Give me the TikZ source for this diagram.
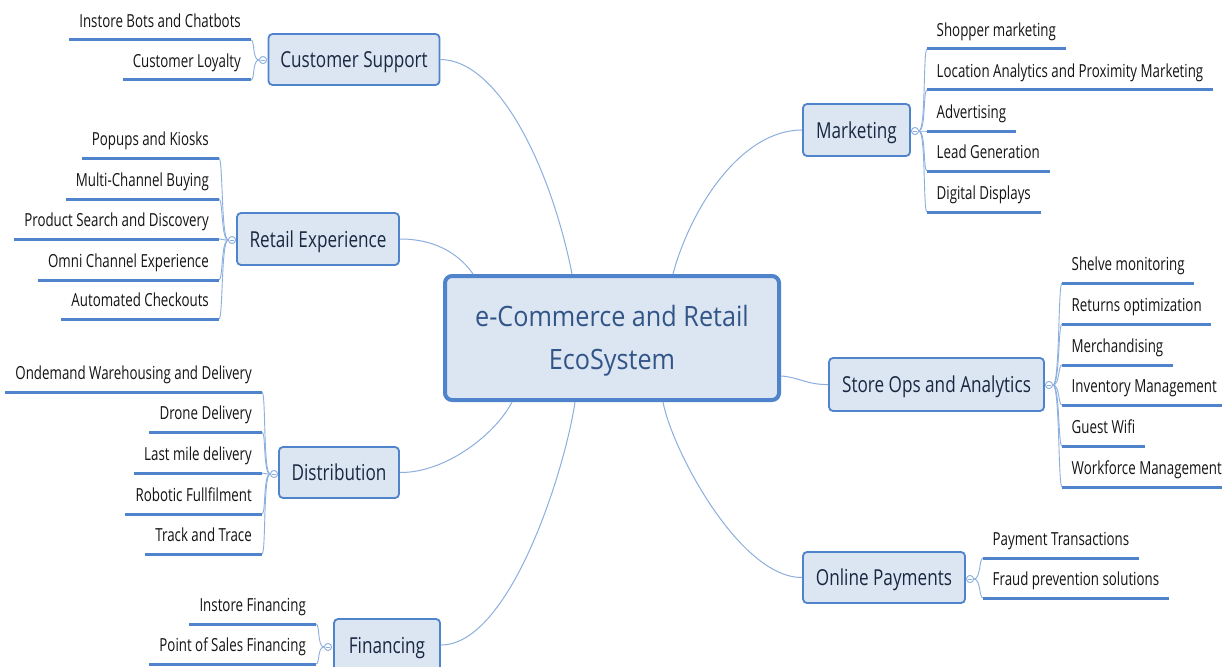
\documentclass[tikz,border=0pt]{standalone}
\usepackage{fontspec}
\setmainfont{Open Sans}[FakeStretch=0.78]
\newfontfamily\leaffont{Open Sans}[FakeStretch=0.74]
\newfontfamily\corefont{Open Sans}[FakeStretch=0.9]
\definecolor{lineblue}{RGB}{79,131,204}
\definecolor{thinblue}{RGB}{140,175,222}
\definecolor{boxfill}{RGB}{220,230,242}
\definecolor{branchtext}{RGB}{25,40,65}
\definecolor{coretext}{RGB}{50,85,135}
\definecolor{leaftext}{RGB}{20,20,20}
\begin{document}
\begin{tikzpicture}[x=1pt,y=-1pt,
  core/.style={draw=lineblue, line width=4pt, rounded corners=7pt, fill=boxfill,
    text=coretext, align=center, font=\corefont\fontsize{28}{43}\selectfont,
    text height=63pt, text depth=0pt,
    minimum width=334pt, minimum height=124pt, inner sep=0pt},
  branch/.style={draw=lineblue, line width=1.8pt, rounded corners=4pt, fill=boxfill,
    text=branchtext, font=\fontsize{22}{26}\selectfont,
    text height=16pt, text depth=0pt, inner sep=0pt},
  leafL/.style={anchor=south east, inner xsep=10pt, inner ysep=0pt, text depth=12pt,
    text=leaftext, font=\leaffont\fontsize{18}{20}\selectfont},
  leafR/.style={anchor=south west, inner xsep=9.5pt, inner ysep=0pt, text depth=12pt,
    text=leaftext, font=\leaffont\fontsize{18}{20}\selectfont},
  uline/.style={draw=lineblue, line width=3pt},
  link/.style={draw=thinblue, line width=1pt},
  bracket/.style={draw=thinblue, line width=0.9pt},
  knob/.style={circle, draw=thinblue, fill=white, line width=0.8pt, minimum size=7pt, inner sep=0pt}
]
\clip (0,0) rectangle (1222,666);
\fill[white] (0,0) rectangle (1222,666);

% central topic
\node[core] (core) at (612,338) {e-Commerce and Retail\\EcoSystem};

% main branches
\node[branch, minimum width=171pt, minimum height=51pt] (cs) at (354,59.5) {Customer Support};
\node[branch, minimum width=162pt, minimum height=52pt] (re) at (318,239) {Retail Experience};
\node[branch, minimum width=120pt, minimum height=51pt] (di) at (339,472.5) {Distribution};
\node[branch, minimum width=106pt, minimum height=52pt] (fi) at (387,645) {Financing};
\node[branch, minimum width=107pt, minimum height=52pt] (mk) at (856.5,130) {Marketing};
\node[branch, minimum width=215pt, minimum height=53pt] (so) at (936.5,384.5) {Store Ops and Analytics};
\node[branch, minimum width=162pt, minimum height=51pt] (op) at (884,577.5) {Online Payments};

% curved links from the central topic to each branch
\draw[link] (cs.east) .. controls (500,60) and (552,172) .. (core.north -| 572,0);
\draw[link] (re.east) .. controls (440,239) and (462,258) .. (core.north -| 473,0);
\draw[link] (mk.west) .. controls (740,130) and (690,210) .. (core.north -| 673,0);
\draw[link] (so.west) .. controls (808,385) and (798,377) .. (core.east |- 0,376);
\draw[link] (op.west) .. controls (740,578) and (672,450) .. (core.south -| 663,0);
\draw[link] (di.east) .. controls (445,473) and (495,435) .. (core.south -| 512,0);
\draw[link] (fi.east) .. controls (510,645) and (565,470) .. (core.south -| 575,0);

% collapse knobs
\node[knob] (kcs) at (263,60) {};
\node[knob] (kre) at (232,240) {};
\node[knob] (kdi) at (274,474) {};
\node[knob] (kfi) at (328,647) {};
\node[knob] (kmk) at (915,131) {};
\node[knob] (kso) at (1049,385) {};
\node[knob] (kop) at (970,579) {};

% left-hand subtopics
\foreach \n/\ux/\uy/\k/\t in {
  cs1/251/40/kcs/Instore Bots and Chatbots,
  cs2/251/80/kcs/Customer Loyalty,
  re1/219/158/kre/Popups and Kiosks,
  re2/219/199/kre/Multi-Channel Buying,
  re3/219/239/kre/Product Search and Discovery,
  re4/219/280/kre/Omni Channel Experience,
  re5/219/319/kre/Automated Checkouts,
  di1/262/392/kdi/Ondemand Warehousing and Delivery,
  di2/262/432/kdi/Drone Delivery,
  di3/262/473/kdi/Last mile delivery,
  di4/262/514/kdi/Robotic Fullfilment,
  di5/262/554/kdi/Track and Trace,
  fi1/316/624/kfi/Instore Financing,
  fi2/316/664/kfi/Point of Sales Financing}{
  \node[leafL] (\n) at (\ux,\uy) {\t};
  \draw[bracket] (\k.west) .. controls +(-7,0) and +(4,0) .. (\n.south east);
  \draw[uline] (\n.south west) -- (\n.south east);
}

% right-hand subtopics
\foreach \n/\ux/\uy/\k/\t in {
  mk1/927/49/kmk/Shopper marketing,
  mk2/927/90/kmk/Location Analytics and Proximity Marketing,
  mk3/927/131/kmk/Advertising,
  mk4/927/171/kmk/Lead Generation,
  mk5/927/212/kmk/Digital Displays,
  so1/1062/283/kso/Shelve monitoring,
  so2/1062/324/kso/Returns optimization,
  so3/1062/365/kso/Merchandising,
  so4/1062/405/kso/Inventory Management,
  so5/1062/446/kso/Guest Wifi,
  so6/1062/487/kso/Workforce Management,
  op1/983/558/kop/Payment Transactions,
  op2/983/598/kop/Fraud prevention solutions}{
  \node[leafR] (\n) at (\ux,\uy) {\t};
  \draw[bracket] (\k.east) .. controls +(7,0) and +(-4,0) .. (\n.south west);
  \draw[uline] (\n.south west) -- (\n.south east);
}

% knobs drawn on top of the bracket ends
\foreach \k in {kcs,kre,kdi,kfi,kmk,kso,kop}{
  \node[knob] at (\k) {};
  \draw[thinblue, line width=0.7pt] ([xshift=-2pt]\k.center) -- ([xshift=2pt]\k.center);
}
\end{tikzpicture}
\end{document}
